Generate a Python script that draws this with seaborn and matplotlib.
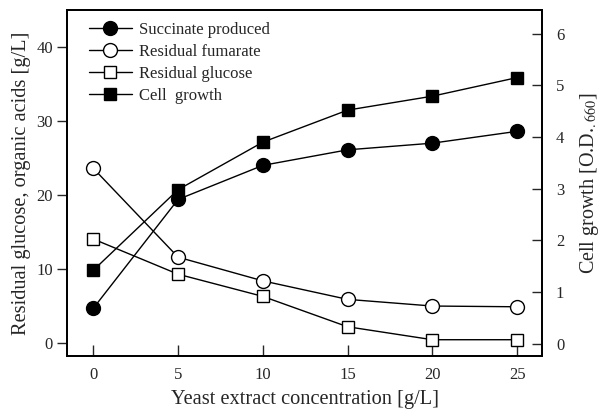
import matplotlib
matplotlib.use("Agg")
import matplotlib.pyplot as plt
import numpy as np
import seaborn as sns

yeast = [0, 5, 10, 15, 20, 25]
succinate = [4.7, 19.4, 24.0, 26.1, 27.0, 28.6]
fumarate = [23.6, 11.6, 8.4, 5.9, 5.0, 4.9]
glucose = [14.05, 9.3, 6.3, 2.2, 0.45, 0.45]
cell_growth = [1.42, 2.98, 3.9, 4.52, 4.79, 5.15]

sns.set_style("ticks")
plt.rcParams["font.family"] = ["Liberation Serif", "DejaVu Serif"]
plt.rcParams["mathtext.fontset"] = "stix"

fig = plt.figure(figsize=(6.07, 4.13), dpi=100)
ax = fig.add_axes([0.111, 0.138, 0.782, 0.838])
ax2 = ax.twinx()

line_kw = dict(color="black", linewidth=1, markeredgecolor="black", markeredgewidth=1)
sns.lineplot(x=yeast, y=succinate, marker="o", markersize=10,
             markerfacecolor="black", label="Succinate produced", ax=ax, **line_kw)
sns.lineplot(x=yeast, y=fumarate, marker="o", markersize=10,
             markerfacecolor="white", label="Residual fumarate", ax=ax, **line_kw)
sns.lineplot(x=yeast, y=glucose, marker="s", markersize=8.5,
             markerfacecolor="white", label="Residual glucose", ax=ax, **line_kw)
sns.lineplot(x=yeast, y=cell_growth, marker="s", markersize=8.5,
             markerfacecolor="black", label="Cell  growth", ax=ax2, **line_kw)

ax.set_xlim(-1.53, 26.47)
ax.set_ylim(-1.75, 45.0)
ax2.set_ylim(-0.24, 6.46)
ax.set_xticks(yeast)
ax.set_yticks([0, 10, 20, 30, 40])
ax2.set_yticks([0, 1, 2, 3, 4, 5, 6])

ax.tick_params(axis="x", direction="in", length=8, width=1, labelsize=12, pad=8)
ax.tick_params(axis="y", direction="out", length=7, width=1, labelsize=12)
ax2.tick_params(axis="y", direction="in", length=7, width=1, labelsize=12, pad=10)

for a in (ax, ax2):
    for s in a.spines.values():
        s.set_linewidth(1.3)
        s.set_color("black")

ax.set_xlabel("Yeast extract concentration [g/L]", fontsize=14.7, labelpad=5)
ax.set_ylabel("Residual glucose, organic acids [g/L]", fontsize=14.7)
ax2.set_ylabel("Cell growth [O.D.$_{.660}$]", fontsize=14.5, labelpad=10)

h1, l1 = ax.get_legend_handles_labels()
h2, l2 = ax2.get_legend_handles_labels()
ax.get_legend().remove()
ax2.get_legend().remove()
ax2.legend(h1 + h2, l1 + l2, loc="upper left", frameon=False, fontsize=12,
           handlelength=2.6, handletextpad=0.4, labelspacing=0.36,
           borderaxespad=0.3, bbox_to_anchor=(0.02, 1.0))

fig.savefig("out.png", dpi=100)
